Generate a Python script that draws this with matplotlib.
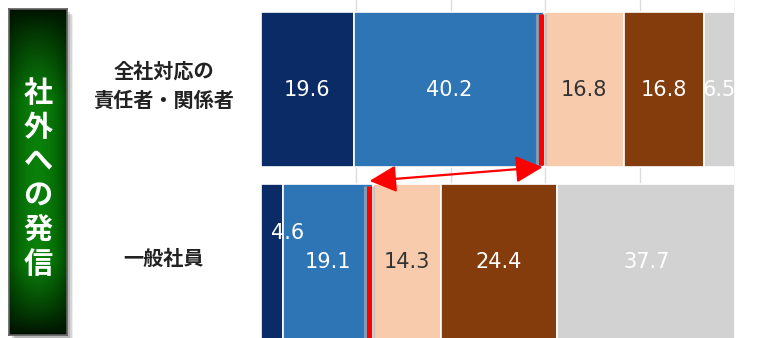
import matplotlib
matplotlib.use("Agg")
import matplotlib.pyplot as plt
import matplotlib.patheffects as pe
import numpy as np
from matplotlib.transforms import blended_transform_factory

plt.rcParams['font.family'] = ['Noto Sans CJK JP', 'DejaVu Sans']

# data (percent, 100% stacked)
categories = ["全社対応の\n責任者・関係者", "一般社員"]
row_top = [19.6, 40.2, 16.8, 16.8, 6.5]
row_bottom = [4.6, 19.1, 14.3, 24.4, 37.7]
values = [row_top, row_bottom]
side_title = "社外への発信"

colors = ['#0b2b66', '#2e75b6', '#f8cbad', '#843c0c', '#d2d2d2']
text_colors = ['white', 'white', '#333333', 'white', 'white']

fig = plt.figure(figsize=(7.71, 3.38), dpi=100)

# background layer for the box shadow
bg = fig.add_axes([0, 0, 1, 1], zorder=-1)
bg.set_xlim(0, 771)
bg.set_ylim(338, 0)
bg.axis('off')
for k, a in enumerate([0.10, 0.15, 0.22]):
    off = 6 - 1.5 * k
    bg.add_patch(plt.Rectangle((9 + off, 9 + off), 58, 340, color='#505050',
                               alpha=a, lw=0))

# main chart
ax = fig.add_axes([261 / 771, 0, 474 / 771, 1])
ax.set_xlim(0, 100)
ax.set_ylim(1.4406, -0.519)
ax.patch.set_alpha(0)
for gx in [20, 40, 60, 80, 100]:
    ax.axvline(gx, color='#dcdcdc', lw=1, zorder=0)

bar_h = 0.9
for i, row in enumerate(values):
    left = 0
    for j, v in enumerate(row):
        ax.barh(i, v, left=left, height=bar_h, color=colors[j],
                edgecolor='white', linewidth=1.2, zorder=2)
        tx, ty = left + v / 2, i
        if v < 5:
            tx, ty = left + v + 1.0, i - 0.17
        ax.text(tx, ty, f"{v:.1f}", ha='center', va='center',
                color=text_colors[j], fontsize=15, fontfamily='DejaVu Sans',
                zorder=5, clip_on=True)
        left += v

for sp in ax.spines.values():
    sp.set_visible(False)
ax.set_xticks([])
ax.set_yticks([])

# category labels
trans = blended_transform_factory(fig.transFigure, ax.transData)
for i, c in enumerate(categories):
    ax.text(164 / 771, i - 0.02, c, transform=trans, ha='center', va='center',
            fontsize=14.5, fontweight='bold', color='#222222', linespacing=1.5)

# red marker lines at the "positive" boundary
b1 = row_top[0] + row_top[1] - 0.7
b2 = row_bottom[0] + row_bottom[1] - 1.0
outline = [pe.Stroke(linewidth=8, foreground='#b4b4b4', alpha=0.6), pe.Normal()]
ax.plot([b1, b1], [-0.44, 0.44], color='#ff0000', lw=3.6, zorder=6,
        solid_capstyle='butt', path_effects=outline)
ax.plot([b2, b2], [0.56, 1.46], color='#ff0000', lw=3.6, zorder=6,
        solid_capstyle='butt', path_effects=outline, clip_on=False)
ax.annotate('', xy=(b2 + 0.2, 0.53), xytext=(b1 + 0.3, 0.45),
            arrowprops=dict(arrowstyle='<|-|>,head_length=1.1,head_width=0.55',
                            color='#ff0000', lw=1.6, mutation_scale=15,
                            shrinkA=0, shrinkB=0),
            zorder=7, annotation_clip=False)

# green side label box
gax = fig.add_axes([9 / 771, 3 / 338, 58 / 771, 326 / 338])
ny, nx = 200, 40
yy = np.linspace(0, 1, ny)[:, None]
xx = np.linspace(-1, 1, nx)[None, :]
vert = np.clip(np.minimum(yy / 0.28, (1 - yy) / 0.22), 0, 1) ** 0.8
horiz = 1 - 0.45 * xx ** 2
g = 0.06 + 0.44 * vert * horiz
img = np.zeros((ny, nx, 3))
img[..., 1] = g
img[..., 0] = 0.04 * vert * horiz ** 3
img[..., 2] = 0.04 * vert * horiz ** 3
gax.imshow(img, aspect='auto', extent=[0, 1, 1, 0])
gax.set_xticks([])
gax.set_yticks([])
for sp in gax.spines.values():
    sp.set_color('#606060')
    sp.set_linewidth(1.2)
gax.text(0.5, 0.48, "\n".join(side_title), transform=gax.transAxes,
         ha='center', va='center', color='white', fontsize=21,
         fontweight='bold', linespacing=1.18)

fig.savefig("out.png", dpi=100, facecolor='white')
